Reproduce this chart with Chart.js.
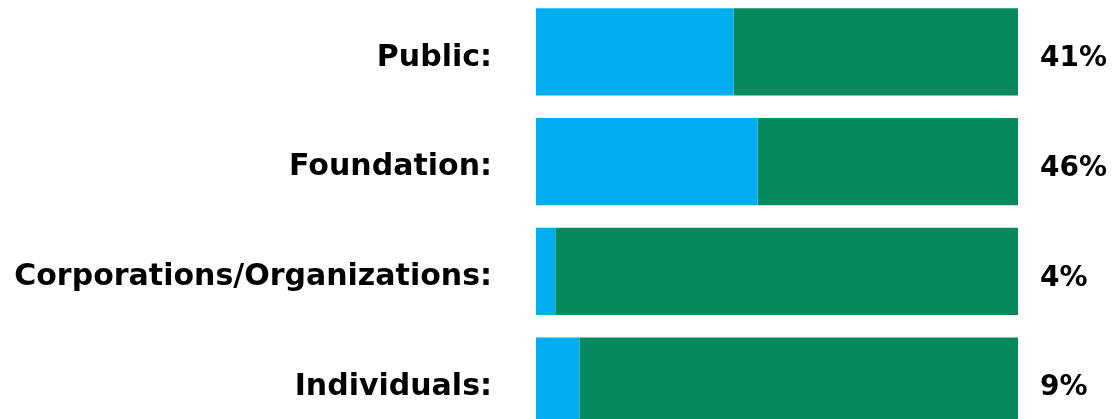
<!DOCTYPE html>
<html>
<head>
<meta charset="utf-8">
<script src="https://cdn.jsdelivr.net/npm/chart.js@4"></script>
<style>
  html, body { margin: 0; padding: 0; background: #fff; overflow: hidden; }
  #chart { position: absolute; left: 0; top: -3px; }
</style>
</head>
<body>
<canvas id="chart" width="1115" height="439"></canvas>
<script>
const categories = ["Public:", "Foundation:", "Corporations/Organizations:", "Individuals:"];
const shareValues = [41, 46, 4, 9];
const restValues = [59, 54, 96, 91];
const percentLabels = ["41%", "46%", "4%", "9%"];

const FONT = "'DejaVu Sans', sans-serif";

const percentPlugin = {
  id: "percentLabels",
  afterDatasetsDraw(chart) {
    const { ctx, chartArea, scales } = chart;
    ctx.save();
    ctx.font = "bold 28px " + FONT;
    ctx.fillStyle = "#000";
    ctx.textAlign = "left";
    ctx.textBaseline = "middle";
    percentLabels.forEach((txt, i) => {
      const y = scales.y.getPixelForValue(i);
      ctx.fillText(txt, chartArea.right + 22, y + 7);
    });
    ctx.restore();
  },
};

const chart = new Chart(document.getElementById("chart"), {
  type: "bar",
  data: {
    labels: categories,
    datasets: [
      { label: "share", data: shareValues, backgroundColor: "#00aeef" },
      { label: "rest", data: restValues, backgroundColor: "#06895d" },
    ],
  },
  options: {
    indexAxis: "y",
    responsive: false,
    animation: false,
    layout: { padding: { left: 0, right: 97, top: 0, bottom: 0 } },
    barPercentage: 1,
    categoryPercentage: 0.793,
    plugins: { legend: { display: false }, tooltip: { enabled: false } },
    scales: {
      x: { stacked: true, min: 0, max: 100, display: false },
      y: {
        stacked: true,
        grid: { display: false, drawTicks: false },
        border: { display: false },
        afterFit(scale) {
          scale.width = 536;
          scale.paddingTop = 0;
          scale.paddingBottom = 0;
        },
        ticks: {
          color: "#000",
          padding: 44,
          labelOffset: 6,
          font: { family: FONT, size: 30, weight: "bold" },
        },
      },
    },
  },
  plugins: [percentPlugin],
});
</script>
</body>
</html>
